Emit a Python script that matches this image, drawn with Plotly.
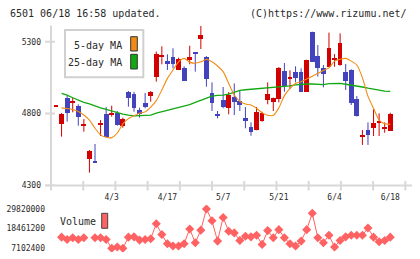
import plotly.graph_objects as go

W, H = 420, 259

# ---------------- data ----------------
idx = list(range(61))
opens = [4850, 4730, 4911, 4878, 4855, 4718, 4489, 4470, 4725, 4804,
         4795, 4809, 4714, 4957, 4943, 4830, 4878, 4925, 5057, 5203,
         5166, 5194, 5106, 5124, 5175, 5226, 5319, 5200, 4950, 4804,
         4901, 4841, 4922, 4892, 4776, 4707, 4688, 4751, 4897, 4883,
         4906, 5103, 5050, 5096, 5096, 4957, 5370, 5203, 5124, 5131,
         5177, 5140, 5096, 5108, 4906, 4640, 4686, 4702, 4740, 4693,
         4681]
highs = [4855, 4804, 4925, 4911, 4864, 4762, 4547, 4589, 4755, 4846,
         4855, 4818, 4772, 4957, 4952, 4841, 4943, 4957, 5231, 5268,
         5212, 5254, 5189, 5129, 5272, 5226, 5410, 5200, 5017, 4818,
         4985, 4950, 5010, 4957, 4846, 4739, 4846, 4813, 5017, 4911,
         5124, 5152, 5101, 5129, 5115, 5175, 5370, 5277, 5138, 5363,
         5214, 5358, 5145, 5108, 4922, 4686, 4739, 4830, 4802, 4739,
         4806]
lows = [4850, 4640, 4744, 4809, 4716, 4674, 4389, 4459, 4644, 4640,
        4779, 4716, 4702, 4848, 4813, 4772, 4837, 4883, 5022, 5143,
        5103, 5115, 5103, 5029, 5143, 5092, 5249, 4987, 4818, 4767,
        4837, 4795, 4790, 4818, 4698, 4646, 4684, 4744, 4865, 4818,
        4878, 4952, 4971, 5017, 4957, 4957, 5161, 5057, 4983, 5131,
        5126, 5133, 4964, 4860, 4779, 4582, 4582, 4644, 4644, 4667,
        4681]
closes = [4855, 4804, 4809, 4885, 4779, 4723, 4542, 4466, 4733, 4644,
          4809, 4721, 4767, 4911, 4841, 4802, 4848, 4957, 5215, 5212,
          5147, 5147, 5184, 5029, 5200, 5222, 5353, 5045, 4878, 4790,
          4848, 4936, 4883, 4864, 4753, 4674, 4818, 4809, 4943, 4911,
          5124, 4994, 5056, 5050, 4957, 5175, 5161, 5120, 5080, 5261,
          5182, 5293, 5029, 4876, 4788, 4658, 4658, 4741, 4746, 4707,
          4802]
ma5 = [None, 4840, 4835, 4828, 4815, 4790, 4755, 4698, 4652, 4635,
       4633, 4665, 4728, 4765, 4785, 4802, 4812, 4845, 4890, 4964,
       5045, 5103, 5160, 5184, 5158, 5150, 5160, 5177, 5160, 5131,
       5092, 5010, 4929, 4885, 4867, 4860, 4837, 4806, 4788, 4788,
       4840, 4925, 4975, 5010, 5022, 5040, 5060, 5080, 5100, 5118,
       5165, 5178, 5184, 5165, 5138, 5050, 4920, 4837, 4755, 4730,
       4725]
ma25 = [None, 4941, 4929, 4910, 4893, 4878, 4868, 4852, 4840, 4830,
        4818, 4808, 4797, 4790, 4784, 4786, 4788, 4790, 4804, 4814,
        4824, 4834, 4844, 4853, 4862, 4878, 4892, 4908, 4922, 4927,
        4928, 4935, 4950, 4962, 4966, 4969, 4972, 4978, 4982, 4985,
        4987, 4990, 4993, 5000, 5005, 5006, 5006, 5006, 5002, 5008,
        5010, 5010, 5004, 4999, 4991, 4985, 4977, 4969, 4962, 4956,
        4955]
volume = [None, 13540000, 12210000, 13160000, 12210000, 13160000, None, 13160000, 13160000, 12210000,
          7110000, 7860000, 7102400, 13540000, 13730000, 11840000, 12210000, 12590000, 21300000, 15050000,
          9750000, 8430000, 8430000, 9750000, 18270000, 10320000, 17600000, 29820000, 23000000, 11270000,
          24900000, 16950000, 16000000, 11650000, 14110000, 13730000, 14680000, 9370000, 17330000, 13160000,
          17890000, 13160000, 9750000, 8430000, 11270000, 17890000, 27360000, 13160000, 10320000, 14680000,
          7860000, 11650000, 13730000, 14680000, 14680000, 14680000, 18840000, 13540000, 10890000, 11650000,
          13540000]
date_pos = [10, 20, 30, 40, 50, 60]
date_labels = ["4/3", "4/17", "5/7", "5/21", "6/4", "6/18"]
price_ticks = [4300, 4800, 5300]
vol_ticks = [7102400, 18461200, 29820000]

# ---------------- styles ----------------
RED = "#d20000"
BLUE = "#4343bd"
ORANGE = "#f08c16"
GREEN = "#12a812"
VOLC = "#ff6262"
AX = "#d8d8d8"
TXT = "#2a2a2a"
FONT = "DejaVu Sans Mono"

def px(x):
    return x / W

def py(y):
    return 1 - y / H

fig = go.Figure()

# candle bodies
base, hgt, cols = [], [], []
for o, c in zip(opens, closes):
    lo, hi = min(o, c), max(o, c)
    base.append(lo)
    hgt.append(max(hi - lo, 7))
    cols.append(RED if c >= o else BLUE)

# wicks
for color in (RED, BLUE):
    wx, wy = [], []
    for i, o, h, l, c in zip(idx, opens, highs, lows, closes):
        if (RED if c >= o else BLUE) == color:
            wx += [i, i, None]
            wy += [l, h, None]
    fig.add_trace(go.Scatter(x=wx, y=wy, mode="lines", line=dict(color=color, width=1),
                             hoverinfo="skip", showlegend=False, xaxis="x", yaxis="y"))

fig.add_trace(go.Bar(x=idx, y=hgt, base=base, width=0.85, marker=dict(color=cols, line=dict(width=0)),
                     showlegend=False, xaxis="x", yaxis="y"))

fig.add_trace(go.Scatter(x=idx, y=ma25, mode="lines", line=dict(color=GREEN, width=1.3, shape="linear"),
                         showlegend=False, xaxis="x", yaxis="y"))
fig.add_trace(go.Scatter(x=idx, y=ma5, mode="lines", line=dict(color=ORANGE, width=1.1, shape="spline", smoothing=0.6),
                         showlegend=False, xaxis="x", yaxis="y"))

fig.add_trace(go.Scatter(x=idx, y=volume, mode="lines+markers", connectgaps=False,
                         line=dict(color=VOLC, width=1),
                         marker=dict(symbol="diamond", size=7, color=VOLC, line=dict(width=0)),
                         showlegend=False, xaxis="x2", yaxis="y2"))

xr = [-0.898, 62.7]
main_top, main_bot = 25.5, 185.5
ppy = 0.1438  # px per yen
y_range = [4300, 4300 + (main_bot - main_top) / ppy]
v_top, v_bot = 205, 252
vpp = 578050
v_range = [7102400 - (v_bot - 248.3) * vpp, 29820000 + (209 - v_top) * vpp]

fig.update_layout(
    width=W, height=H, margin=dict(l=0, r=0, t=0, b=0),
    paper_bgcolor="white", plot_bgcolor="white",
    template="none", bargap=0, showlegend=False,
    font=dict(family=FONT, size=8, color=TXT),
    xaxis=dict(domain=[px(51), px(405.3)], range=xr, showgrid=False, zeroline=False, showline=False,
               tickvals=date_pos, ticktext=date_labels, ticks="", ticklabelstandoff=5,
               tickfont=dict(family=FONT, size=8, color=TXT), automargin=False, anchor="y"),
    yaxis=dict(domain=[py(main_bot), py(main_top)], range=y_range, showgrid=False, zeroline=False,
               showline=False, tickvals=price_ticks, ticks="", ticklabelstandoff=9,
               tickfont=dict(family=FONT, size=8, color=TXT), automargin=False, anchor="x"),
    xaxis2=dict(domain=[px(51), px(405.3)], range=xr, matches="x", showgrid=False, zeroline=False,
                showline=False, showticklabels=False, ticks="", anchor="y2"),
    yaxis2=dict(domain=[py(v_bot), py(v_top)], range=v_range, showgrid=False, zeroline=False,
                showline=False, tickvals=vol_ticks, ticktext=[str(v) for v in vol_ticks], ticks="",
                ticklabelstandoff=5, tickfont=dict(family=FONT, size=8, color=TXT),
                automargin=False, anchor="x2"),
)

shapes = []
# axis lines
shapes.append(dict(type="line", xref="paper", yref="paper", x0=px(51), x1=px(51), y0=py(25.5), y1=py(190),
                   line=dict(color=AX, width=2), layer="below"))
shapes.append(dict(type="line", xref="paper", yref="paper", x0=px(45), x1=px(412), y0=py(185.5), y1=py(185.5),
                   line=dict(color=AX, width=2), layer="below"))
# x tick marks (crossing the axis)
for k in range(12):
    xx = 51 + k * 32.21
    shapes.append(dict(type="line", xref="paper", yref="paper", x0=px(xx), x1=px(xx), y0=py(181), y1=py(190.5),
                       line=dict(color=AX, width=2), layer="below"))
# y tick marks
for t in price_ticks:
    shapes.append(dict(type="line", xref="paper", yref="y", x0=px(45), x1=px(55), y0=t, y1=t,
                       line=dict(color=AX, width=2), layer="below"))
# legend box
shapes.append(dict(type="rect", xref="paper", yref="paper", x0=px(65), x1=px(143.3), y0=py(30), y1=py(77.3),
                   line=dict(color="#d0d0d0", width=2), fillcolor="white", layer="above"))
shapes.append(dict(type="rect", xref="paper", yref="paper", x0=px(130.7), x1=px(137.3), y0=py(36.7), y1=py(51),
                   line=dict(color="#333333", width=1), fillcolor=ORANGE, layer="above"))
shapes.append(dict(type="rect", xref="paper", yref="paper", x0=px(130.7), x1=px(137.3), y0=py(54.3), y1=py(69),
                   line=dict(color="#333333", width=1), fillcolor=GREEN, layer="above"))
shapes.append(dict(type="rect", xref="paper", yref="paper", x0=px(101.7), x1=px(107.7), y0=py(213.3), y1=py(228.3),
                   line=dict(color="#444444", width=1), fillcolor=VOLC, layer="above"))
fig.update_layout(shapes=shapes)

ann = [
    dict(text="6501 06/18 16:58 updated.", x=px(8), y=py(13), xanchor="left", yanchor="middle",
         font=dict(family=FONT, size=10, color=TXT)),
    dict(text="(C)https://www.rizumu.net/", x=px(409), y=py(13), xanchor="right", yanchor="middle",
         font=dict(family=FONT, size=10, color=TXT)),
    dict(text="5-day MA", x=px(124), y=py(46), xanchor="right", yanchor="middle",
         font=dict(family=FONT, size=10, color=TXT)),
    dict(text="25-day MA", x=px(124), y=py(62.5), xanchor="right", yanchor="middle",
         font=dict(family=FONT, size=10, color=TXT)),
    dict(text="Volume", x=px(58), y=py(221.5), xanchor="left", yanchor="middle",
         font=dict(family=FONT, size=10, color=TXT)),
]
for a in ann:
    a.update(xref="paper", yref="paper", showarrow=False)
fig.update_layout(annotations=ann)

fig.write_html("out.html")
